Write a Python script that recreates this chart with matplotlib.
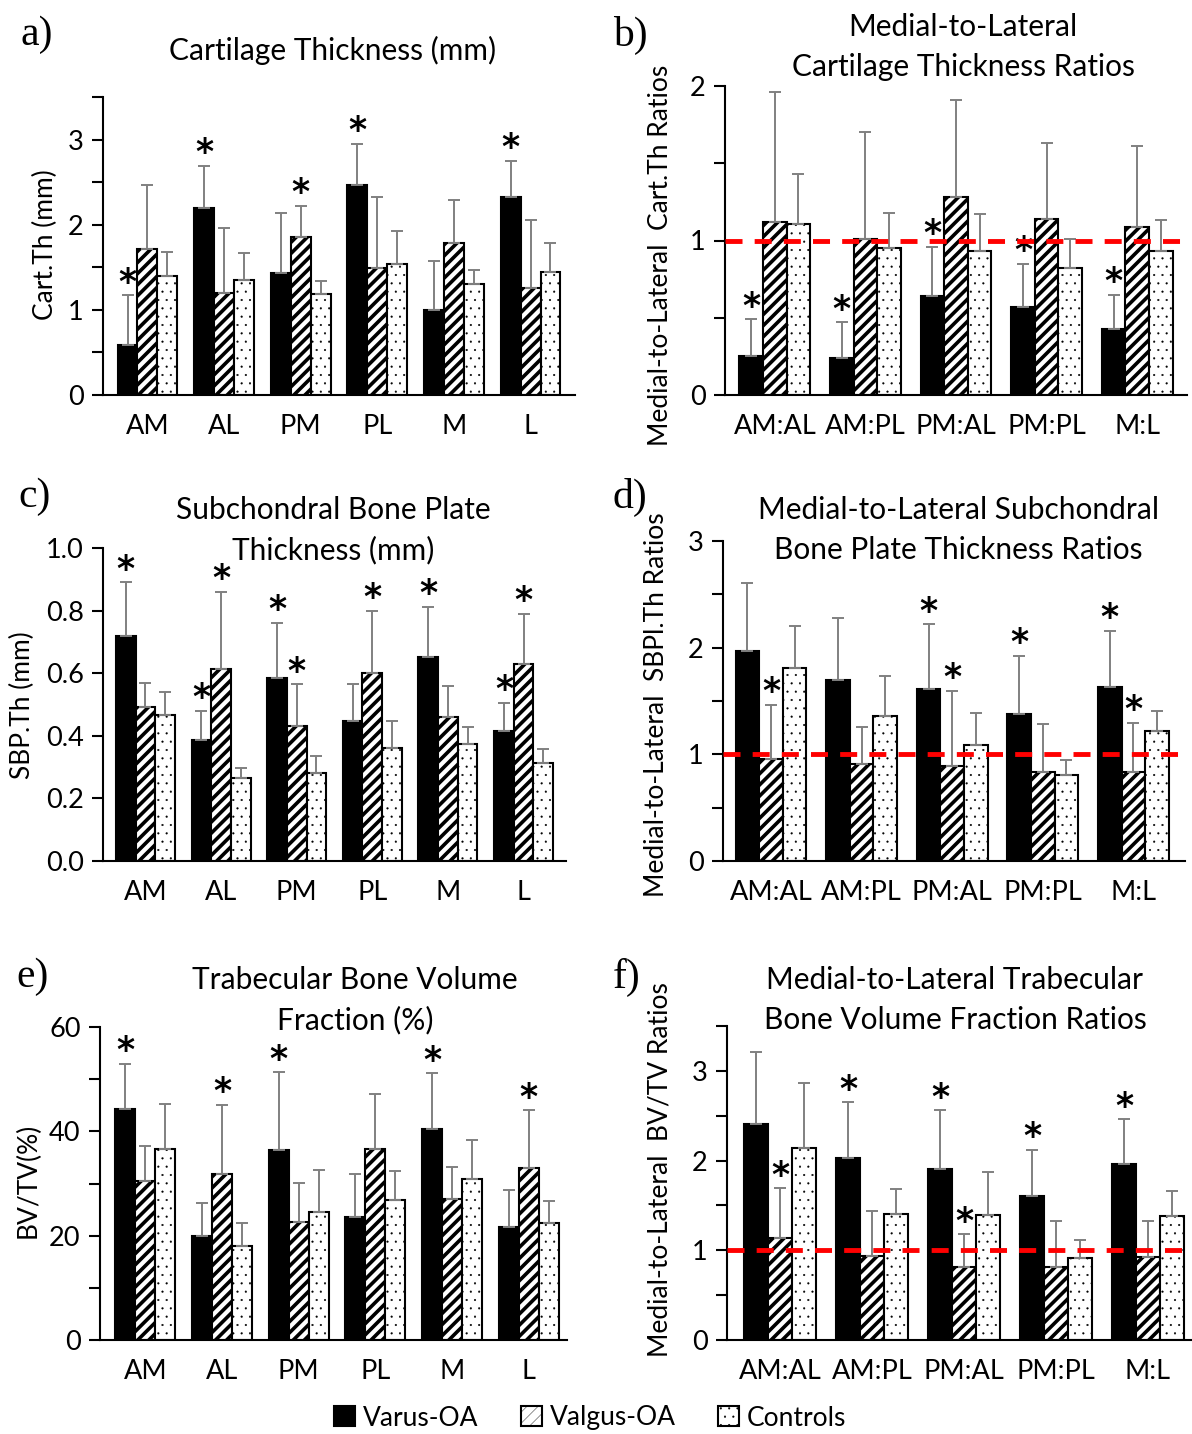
import matplotlib
matplotlib.use('Agg')
import matplotlib.pyplot as plt
import numpy as np

plt.rcParams['font.family'] = ['Lato', 'DejaVu Sans']

series = ['Varus-OA', 'Valgus-OA', 'Controls']
regions = ['AM', 'AL', 'PM', 'PL', 'M', 'L']
ratios = ['AM:AL', 'AM:PL', 'PM:AL', 'PM:PL', 'M:L']

# a) cartilage thickness (mm)
a_varus = [0.59, 2.20, 1.43, 2.47, 1.00, 2.33]
a_varus_sd = [0.58, 0.49, 0.71, 0.48, 0.57, 0.42]
a_valgus = [1.71, 1.20, 1.85, 1.49, 1.78, 1.26]
a_valgus_sd = [0.76, 0.76, 0.37, 0.83, 0.51, 0.79]
a_ctrl = [1.40, 1.35, 1.19, 1.54, 1.30, 1.44]
a_ctrl_sd = [0.28, 0.32, 0.15, 0.39, 0.17, 0.34]
a_star_varus = [1, 1, 0, 1, 0, 1]
a_star_valgus = [0, 0, 1, 0, 0, 0]

# b) medial-to-lateral cart.th ratios
b_varus = [0.25, 0.24, 0.64, 0.57, 0.43]
b_varus_sd = [0.24, 0.23, 0.32, 0.28, 0.22]
b_valgus = [1.12, 1.01, 1.28, 1.14, 1.09]
b_valgus_sd = [0.84, 0.69, 0.63, 0.49, 0.52]
b_ctrl = [1.11, 0.95, 0.93, 0.82, 0.93]
b_ctrl_sd = [0.32, 0.23, 0.24, 0.19, 0.20]
b_star_varus = [1, 1, 1, 1, 1]
b_star_valgus = [0, 0, 0, 0, 0]

# c) subchondral bone plate thickness (mm)
c_varus = [0.720, 0.386, 0.586, 0.447, 0.653, 0.416]
c_varus_sd = [0.170, 0.094, 0.175, 0.117, 0.160, 0.090]
c_valgus = [0.492, 0.614, 0.430, 0.602, 0.461, 0.628]
c_valgus_sd = [0.076, 0.247, 0.134, 0.198, 0.097, 0.162]
c_ctrl = [0.466, 0.264, 0.280, 0.362, 0.374, 0.312]
c_ctrl_sd = [0.074, 0.034, 0.056, 0.085, 0.055, 0.047]
c_star_varus = [1, 1, 1, 0, 1, 1]
c_star_valgus = [0, 1, 1, 1, 0, 1]

# d) medial-to-lateral SBPl.Th ratios
d_varus = [1.97, 1.695, 1.61, 1.374, 1.629]
d_varus_sd = [0.64, 0.58, 0.61, 0.55, 0.53]
d_valgus = [0.953, 0.91, 0.888, 0.838, 0.835]
d_valgus_sd = [0.51, 0.345, 0.71, 0.445, 0.46]
d_ctrl = [1.81, 1.355, 1.09, 0.804, 1.218]
d_ctrl_sd = [0.39, 0.38, 0.30, 0.14, 0.184]
d_star_varus = [0, 0, 1, 1, 1]
d_star_valgus = [1, 0, 1, 0, 1]

# e) trabecular BV/TV (%)
e_varus = [44.3, 19.9, 36.5, 23.6, 40.4, 21.7]
e_varus_sd = [8.7, 6.3, 14.8, 8.3, 10.7, 7.1]
e_valgus = [30.4, 31.8, 22.7, 36.7, 27.1, 33.0]
e_valgus_sd = [6.8, 13.3, 7.4, 10.5, 6.1, 11.0]
e_ctrl = [36.7, 18.0, 24.5, 26.9, 30.8, 22.5]
e_ctrl_sd = [8.5, 4.5, 8.1, 5.5, 7.5, 4.2]
e_star_varus = [1, 0, 1, 0, 1, 0]
e_star_valgus = [0, 1, 0, 0, 0, 1]

# f) medial-to-lateral BV/TV ratios
f_varus = [2.41, 2.03, 1.91, 1.60, 1.96]
f_varus_sd = [0.80, 0.62, 0.65, 0.52, 0.50]
f_valgus = [1.14, 0.94, 0.81, 0.81, 0.93]
f_valgus_sd = [0.55, 0.50, 0.37, 0.52, 0.40]
f_ctrl = [2.14, 1.41, 1.39, 0.91, 1.38]
f_ctrl_sd = [0.73, 0.27, 0.48, 0.21, 0.28]
f_star_varus = [0, 1, 1, 1, 1]
f_star_valgus = [1, 0, 1, 0, 0]

W, H = 1192, 1434
fig = plt.figure(figsize=(W / 100, H / 100), dpi=100)


def add_ax(left, right, top, bottom):
    return fig.add_axes([left / W, 1 - bottom / H, (right - left) / W, (bottom - top) / H])


def panel(ax, cats, vals, sds, stars, xlim, ylim, major, minor, fmt):
    x = np.arange(len(cats))
    bw = 0.26
    styles = [dict(color='black', edgecolor='black', hatch=None),
              dict(color='white', edgecolor='black', hatch='///'),
              dict(color='white', edgecolor='black', hatch='..')]
    hlw = [1.0, 2.6, 0.3]
    for i in range(3):
        xs = x + (i - 1) * bw
        plt.rcParams['hatch.linewidth'] = hlw[i]
        ax.bar(xs, vals[i], bw, linewidth=1.5, label=series[i], zorder=2, **styles[i])
        ax.errorbar(xs, vals[i], yerr=[np.zeros(len(cats)), sds[i]], fmt='none',
                    ecolor='#808080', elinewidth=1.4, capsize=4, capthick=1.4, zorder=3)
        if stars[i] is not None:
            for j in range(len(cats)):
                if stars[i][j]:
                    ax.annotate('*', (xs[j], vals[i][j] + sds[i][j]), xytext=(0, 9),
                                textcoords='offset points', ha='center', va='center',
                                fontsize=25, fontweight='bold', family='DejaVu Sans')
    ax.set_xlim(*xlim)
    ax.set_ylim(*ylim)
    ax.set_xticks(x)
    ax.set_xticklabels(cats, fontsize=19.5)
    ax.tick_params(axis='x', length=0, pad=14)
    ax.set_yticks(np.arange(ylim[0], ylim[1] + 1e-9, major))
    ax.set_yticks(np.arange(ylim[0], ylim[1] + 1e-9, minor), minor=True)
    ax.set_yticklabels([fmt % v for v in np.arange(ylim[0], ylim[1] + 1e-9, major)], fontsize=19.5)
    ax.tick_params(axis='y', which='both', length=8, width=1.5, direction='out', pad=6)
    for s in ['top', 'right']:
        ax.spines[s].set_visible(False)
    for s in ['left', 'bottom']:
        ax.spines[s].set_linewidth(1.5)


ax_a = add_ax(103, 575, 97, 395)
panel(ax_a, regions, [a_varus, a_valgus, a_ctrl], [a_varus_sd, a_valgus_sd, a_ctrl_sd],
      [a_star_varus, a_star_valgus, None], (-0.58, 5.58), (0, 3.5), 1, 0.5, '%g')

ax_b = add_ax(725, 1187, 86, 395)
panel(ax_b, ratios, [b_varus, b_valgus, b_ctrl], [b_varus_sd, b_valgus_sd, b_ctrl_sd],
      [b_star_varus, b_star_valgus, None], (-0.55, 4.55), (0, 2), 1, 0.5, '%g')

ax_c = add_ax(103, 566, 548, 861)
panel(ax_c, regions, [c_varus, c_valgus, c_ctrl], [c_varus_sd, c_valgus_sd, c_ctrl_sd],
      [c_star_varus, c_star_valgus, None], (-0.56, 5.56), (0, 1.0), 0.2, 0.2, '%.1f')

ax_d = add_ax(723, 1185, 541, 861)
panel(ax_d, ratios, [d_varus, d_valgus, d_ctrl], [d_varus_sd, d_valgus_sd, d_ctrl_sd],
      [d_star_varus, d_star_valgus, None], (-0.53, 4.57), (0, 3), 1, 0.5, '%g')

ax_e = add_ax(100, 567, 1027, 1340)
panel(ax_e, regions, [e_varus, e_valgus, e_ctrl], [e_varus_sd, e_valgus_sd, e_ctrl_sd],
      [e_star_varus, e_star_valgus, None], (-0.59, 5.5), (0, 60), 20, 10, '%g')

ax_f = add_ax(727, 1192, 1026, 1340)
panel(ax_f, ratios, [f_varus, f_valgus, f_ctrl], [f_varus_sd, f_valgus_sd, f_ctrl_sd],
      [f_star_varus, f_star_valgus, None], (-0.58, 4.48), (0, 3.5), 1, 0.5, '%g')

for ax in [ax_b, ax_d, ax_f]:
    ax.axhline(1, color='red', lw=3.5, ls=(0, (3.5, 2.5)), zorder=4)


def ftext(x, y, s, **kw):
    fig.text(x / W, 1 - y / H, s, **kw)


tkw = dict(ha='center', va='center', fontsize=21.5, linespacing=1.5)
ftext(333, 50, 'Cartilage Thickness (mm)', **tkw)
ftext(963, 47, 'Medial-to-Lateral\nCartilage Thickness Ratios', **tkw)
ftext(333, 530, 'Subchondral Bone Plate\nThickness (mm)', **tkw)
ftext(958, 530, 'Medial-to-Lateral Subchondral\nBone Plate Thickness Ratios', **tkw)
ftext(355, 1000, 'Trabecular Bone Volume\nFraction (%)', **tkw)
ftext(955, 1000, 'Medial-to-Lateral Trabecular\nBone Volume Fraction Ratios', **tkw)

lkw = dict(ha='center', va='center', fontsize=19, rotation=90)
ftext(45, 245, 'Cart.Th (mm)', **lkw)
ftext(660, 255, 'Medial-to-Lateral  Cart.Th Ratios', **lkw)
ftext(22, 705, 'SBP.Th (mm)', **lkw)
ftext(657, 705, 'Medial-to-Lateral  SBPl.Th Ratios', **lkw)
ftext(28, 1180, 'BV/TV(%)', **lkw)
ftext(660, 1170, 'Medial-to-Lateral  BV/TV Ratios', **lkw)

pkw = dict(ha='left', va='center', fontsize=30, family='Liberation Serif')
ftext(20, 35, 'a)', **pkw)
ftext(613, 35, 'b)', **pkw)
ftext(18, 497, 'c)', **pkw)
ftext(613, 497, 'd)', **pkw)
ftext(16, 977, 'e)', **pkw)
ftext(613, 977, 'f)', **pkw)

handles, labels = ax_a.get_legend_handles_labels()
fig.legend(handles, labels, loc='center', bbox_to_anchor=(590 / W, 1 - 1418 / H), ncol=3,
           frameon=False, fontsize=19, handlelength=0.8, handleheight=0.8,
           handletextpad=0.3, columnspacing=1.6)

fig.savefig('out.png', dpi=100)
